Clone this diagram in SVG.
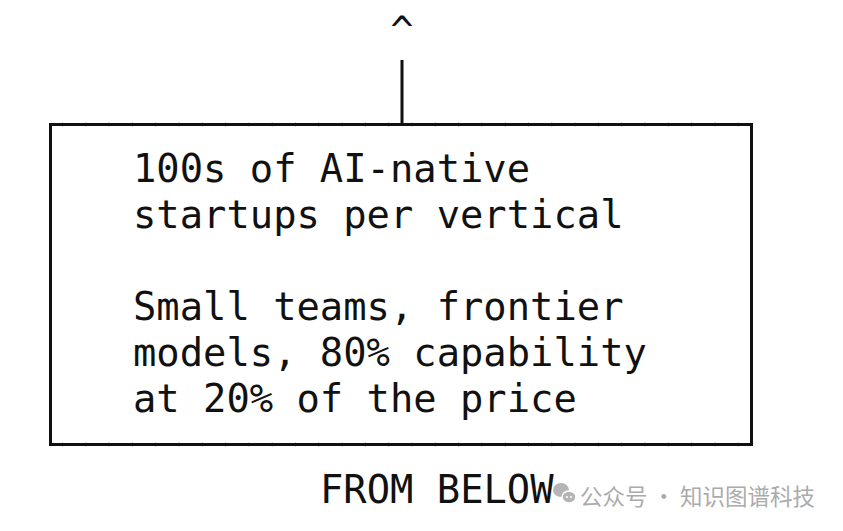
<svg xmlns="http://www.w3.org/2000/svg" width="843" height="531" viewBox="0 0 843 531">
<style>
.mono{font-family:"DejaVu Sans Mono","Liberation Mono",monospace;font-size:38.8px;fill:#111}
.wm{font-family:"Noto Sans CJK SC","Noto Sans",sans-serif;font-size:22.5px;fill:#ababab}
.edge{fill:none;stroke:#111;stroke-width:3}
.tick{fill:none;stroke:#111;stroke-width:5;stroke-dasharray:1 22.3;opacity:0.2}
</style>
<rect width="843" height="531" fill="#fff"/>
<g id="connectors">
<text class="mono" x="402" y="44" text-anchor="middle">^</text>
<line class="edge" x1="402" y1="60" x2="402" y2="124"/>
</g>
<g id="node-box">
<rect class="edge" x="50.5" y="124.5" width="701" height="320"/>
<line class="tick" x1="62" y1="124.5" x2="750" y2="124.5"/>
<line class="tick" x1="62" y1="444.5" x2="750" y2="444.5"/>
<text class="mono" x="133" y="182">100s of AI-native</text>
<text class="mono" x="133" y="228">startups per vertical</text>
<text class="mono" x="133" y="320">Small teams, frontier</text>
<text class="mono" x="133" y="366">models, 80% capability</text>
<text class="mono" x="133" y="412">at 20% of the price</text>
</g>
<g id="label-from-below">
<text class="mono" x="320" y="503">FROM BELOW</text>
</g>
<g id="watermark">
<ellipse cx="561" cy="490" rx="8" ry="7" fill="#b5b5b5"/>
<ellipse cx="569" cy="497" rx="7" ry="6" fill="#b5b5b5" stroke="#fff" stroke-width="1.5"/>
<circle cx="567" cy="497" r="1" fill="#fff"/>
<circle cx="571" cy="497" r="1" fill="#fff"/>
<text class="wm" x="580" y="505" textLength="235" lengthAdjust="spacing">公众号 · 知识图谱科技</text>
</g>
</svg>
